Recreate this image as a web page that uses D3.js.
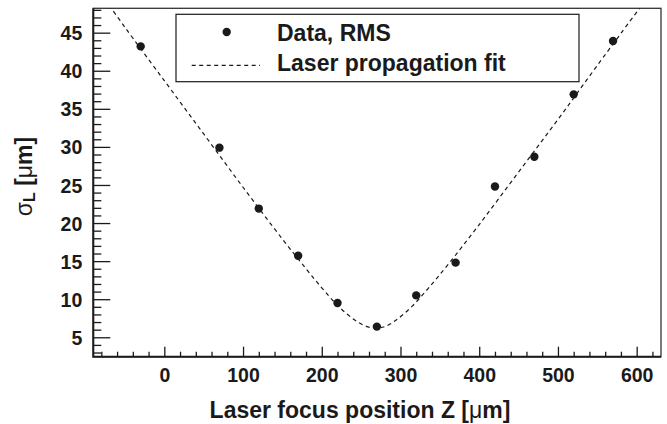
<!DOCTYPE html>
<html>
<head>
<meta charset="utf-8">
<script src="https://cdn.jsdelivr.net/npm/d3@7"></script>
<style>
  body { margin: 0; background: #fff; }
  text { font-family: "Liberation Sans", Arial, sans-serif; font-weight: bold; fill: #1a1a1a; }
</style>
</head>
<body>
<div id="vis"></div>
<script>
// measured points (RMS width vs laser focus position)
var zData = [-30, 70, 120, 170, 220, 270, 320, 370, 420, 470, 520, 570]
var sigmaData = [43.2, 29.9, 21.9, 15.7, 9.5, 6.4, 10.5, 14.8, 24.8, 28.7, 36.9, 43.9]

// fit curve
var zFit = [-70, -50, 0, 50, 100, 150, 180, 200, 220, 240, 255, 268, 280, 295, 315, 335, 360, 400, 450, 500, 550, 605]
var sigmaFit = [48.6, 45.7, 38.7, 31.7, 24.7, 17.9, 14.0, 11.5, 9.2, 7.4, 6.5, 6.2, 6.4, 7.3, 9.1, 11.4, 14.5, 19.8, 26.7, 33.6, 40.7, 48.4]

var xMajor = [0, 100, 200, 300, 400, 500, 600]
var yMajor = [5, 10, 15, 20, 25, 30, 35, 40, 45]
var legendNames = ["Data, RMS", "Laser propagation fit"]

var width = 667
var height = 424
var padL = 93.3, padR = 661, padT = 8.3, padB = 356.7

var svg = d3.select('#vis').append('svg')
  .attr('width', width)
  .attr('height', height)

var x = d3.scaleLinear().domain([-90.2, 630.9]).range([padL, padR])
var y = d3.scaleLinear().domain([2.45, 48.2]).range([padB, padT])

var xMinor = d3.range(-80, 631, 20).filter(v => v % 100 != 0)
var yMinor = d3.range(3, 49, 1).filter(v => v % 5 != 0)

svg.append('clipPath').attr('id', 'clip')
  .append('rect')
  .attr('x', padL).attr('y', padT)
  .attr('width', padR - padL).attr('height', padB - padT)

// minor ticks
svg.append('g')
  .attr('transform', 'translate(0,' + padB + ')')
  .call(d3.axisBottom(x).tickValues(xMinor).tickSize(-5).tickFormat(''))
svg.append('g')
  .attr('transform', 'translate(' + padL + ',0)')
  .call(d3.axisLeft(y).tickValues(yMinor).tickSize(-8).tickFormat(''))

// major ticks + labels
var xAxis = svg.append('g')
  .attr('transform', 'translate(0,' + padB + ')')
  .call(d3.axisBottom(x).tickValues(xMajor).tickSize(-10).tickPadding(11).tickFormat(d3.format('d')))
var yAxis = svg.append('g')
  .attr('transform', 'translate(' + padL + ',0)')
  .call(d3.axisLeft(y).tickValues(yMajor).tickSize(-17).tickPadding(11).tickFormat(d3.format('d')))

svg.selectAll('.domain').remove()
svg.selectAll('.tick line').attr('stroke', '#1a1a1a').attr('stroke-width', 1.3)
xAxis.selectAll('text').style('font-size', '19.5px').attr('fill', '#1a1a1a')
yAxis.selectAll('text').style('font-size', '19.5px').attr('fill', '#1a1a1a').attr('dy', '0.36em')

// frame
svg.append('rect')
  .attr('x', padL).attr('y', padT)
  .attr('width', padR - padL).attr('height', padB - padT)
  .attr('fill', 'none')
  .attr('stroke', '#333')
  .attr('stroke-width', 1.3)
svg.append('path')
  .attr('d', 'M' + padL + ',' + padT + 'V' + padB + 'H' + padR)
  .attr('fill', 'none')
  .attr('stroke', '#1a1a1a')
  .attr('stroke-width', 2)

// fit line
var fitPts = zFit.map((z, i) => [z, sigmaFit[i]])
var line = d3.line()
  .x(d => x(d[0]))
  .y(d => y(d[1]))
  .curve(d3.curveCatmullRom)
svg.append('path')
  .datum(fitPts)
  .attr('clip-path', 'url(#clip)')
  .attr('d', line)
  .attr('fill', 'none')
  .attr('stroke', '#1a1a1a')
  .attr('stroke-width', 1.2)
  .attr('stroke-dasharray', '4,3.5')

// data points
var pts = zData.map((z, i) => [z, sigmaData[i]])
svg.selectAll('circle.pt')
  .data(pts)
  .enter()
  .append('circle')
  .attr('class', 'pt')
  .attr('cx', d => x(d[0]))
  .attr('cy', d => y(d[1]))
  .attr('r', 4.2)
  .attr('fill', '#1a1a1a')

// legend
var lg = svg.append('g')
lg.append('rect')
  .attr('x', 176).attr('y', 14.3)
  .attr('width', 403).attr('height', 67.4)
  .attr('fill', '#fff')
  .attr('stroke', '#1a1a1a')
  .attr('stroke-width', 1.2)
lg.append('circle')
  .attr('cx', 226.7).attr('cy', 32).attr('r', 4.2).attr('fill', '#1a1a1a')
lg.append('line')
  .attr('x1', 191.7).attr('x2', 260).attr('y1', 65.3).attr('y2', 65.3)
  .attr('stroke', '#1a1a1a').attr('stroke-width', 1.2).attr('stroke-dasharray', '4,3.5')
lg.selectAll('text.lbl')
  .data(legendNames)
  .enter()
  .append('text')
  .attr('class', 'lbl')
  .attr('x', 277)
  .attr('y', (d, i) => i == 0 ? 40.7 : 70.7)
  .style('font-size', '23px')
  .text(d => d)

// axis titles
var xt = svg.append('text')
  .attr('x', 360)
  .attr('y', 418.3)
  .attr('text-anchor', 'middle')
  .style('font-size', '23px')
xt.append('tspan').text('Laser focus position Z [')
xt.append('tspan').style('font-weight', 'normal').text('μ')
xt.append('tspan').text('m]')

var yt = svg.append('text')
  .attr('transform', 'translate(32,176.5) rotate(-90)')
  .attr('text-anchor', 'middle')
  .style('font-size', '23px')
yt.append('tspan').style('font-weight', 'normal').text('σ')
yt.append('tspan').attr('dy', 3).style('font-size', '16px').text('L')
yt.append('tspan').attr('dy', -3).text(' [')
yt.append('tspan').style('font-weight', 'normal').text('μ')
yt.append('tspan').text('m]')
</script>
</body>
</html>
